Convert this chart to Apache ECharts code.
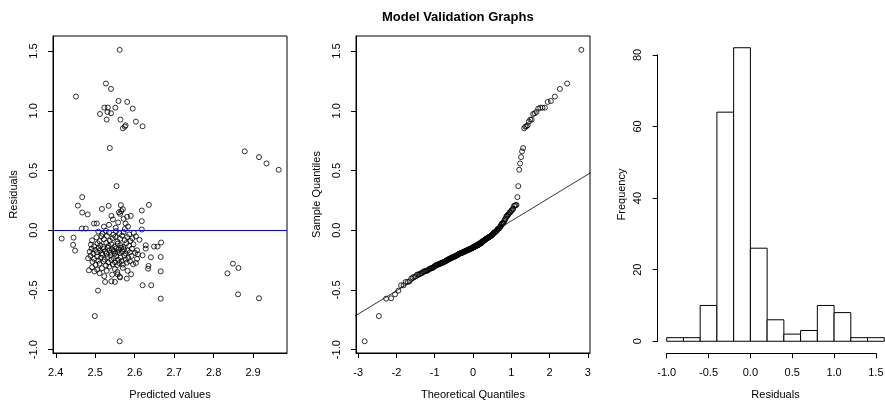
<!DOCTYPE html>
<html>
<head>
<meta charset="utf-8">
<script src="https://cdn.jsdelivr.net/npm/echarts@6/dist/echarts.min.js"></script>
<style>
html,body{margin:0;padding:0;background:#fff;}
#chart{width:885px;height:401px;}
</style>
</head>
<body>
<div id="chart"></div>
<script>
// ---- Data ----
const titleText = 'Model Validation Graphs';

// Residuals vs predicted values (same order in both arrays)
const predicted = [
  2.562,2.451,2.527,2.540,2.559,2.581,2.523,2.532,2.551,2.595,2.531,2.540,2.512,2.529,2.564,2.603,2.577,2.575,2.570,2.620,
  2.537,2.879,2.915,2.934,2.965,
  2.467,2.456,2.534,2.565,2.636,2.554,
  2.467,2.481,2.466,2.476,2.497,2.504,2.517,2.541,2.563,2.570,2.581,2.577,2.618,2.618,2.618,2.522,2.535,2.545,2.552,2.558,2.566,2.560,2.572,2.583,2.590,2.575,
  2.415,2.445,2.444,2.449,2.649,2.658,2.667,2.628,2.628,2.606,
  2.508,2.518,2.527,2.535,2.546,2.553,2.561,2.572,2.586,2.598,
  2.492,2.503,2.511,2.516,2.522,2.530,2.537,2.544,2.551,2.556,2.563,2.568,2.575,2.581,2.589,2.594,2.603,2.612,
  2.489,2.497,2.506,2.513,2.520,2.528,2.534,2.541,2.549,2.557,2.564,2.571,2.579,2.586,2.597,
  2.486,2.491,2.495,2.500,2.504,2.509,2.512,2.517,2.521,2.525,2.529,2.532,2.536,2.540,2.543,2.547,2.550,2.553,2.556,2.559,2.562,2.566,2.569,2.573,2.577,2.582,2.588,2.593,2.601,
  2.482,2.484,2.641,2.666,2.634,2.635,2.666,2.620,2.608,2.603,2.591,2.835,2.849,2.863,2.557,2.562,
  2.488,2.493,2.497,2.501,2.505,2.508,2.511,2.514,2.518,2.521,2.524,2.527,2.531,2.534,2.538,2.541,2.544,2.547,2.550,2.553,2.556,2.558,2.561,2.564,2.567,2.570,2.574,2.577,2.580,2.584,2.588,2.592,2.596,2.606,
  2.492,2.498,2.505,2.511,2.517,2.523,2.529,2.536,2.543,2.550,2.556,2.563,2.570,2.582,
  2.507,2.862,2.915,2.666,2.620,2.642,2.580,2.541,2.525,2.550,2.499,2.562
];
const residuals = [
  1.510,1.119,1.228,1.183,1.082,1.074,1.026,1.026,1.026,1.018,0.990,0.979,0.973,0.926,0.926,0.909,0.878,0.867,0.853,0.870,
  0.688,0.660,0.612,0.559,0.506,
  0.277,0.206,0.204,0.210,0.212,0.369,
  0.148,0.132,0.014,0.014,0.056,0.056,0.178,0.120,0.137,0.176,0.112,0.056,0.165,0.076,0.006,0.030,0.045,0.090,0.020,0.065,0.160,0.150,0.095,0.030,0.120,0.010,
  -0.070,-0.062,-0.123,-0.171,-0.137,-0.137,-0.103,-0.126,-0.154,-0.168,
  -0.012,-0.030,-0.005,-0.020,-0.038,-0.008,-0.025,-0.015,-0.035,-0.022,
  -0.085,-0.060,-0.092,-0.050,-0.075,-0.048,-0.088,-0.066,-0.055,-0.095,-0.072,-0.045,-0.083,-0.058,-0.090,-0.068,-0.052,-0.080,
  -0.120,-0.135,-0.110,-0.128,-0.140,-0.105,-0.132,-0.117,-0.138,-0.112,-0.125,-0.140,-0.108,-0.130,-0.118,
  -0.180,-0.155,-0.195,-0.165,-0.185,-0.150,-0.172,-0.192,-0.158,-0.178,-0.198,-0.148,-0.168,-0.188,-0.160,-0.175,-0.196,-0.152,-0.183,-0.165,-0.190,-0.147,-0.178,-0.160,-0.193,-0.170,-0.185,-0.155,-0.190,
  -0.235,-0.336,-0.227,-0.224,-0.322,-0.299,-0.344,-0.210,-0.201,-0.274,-0.369,-0.361,-0.280,-0.316,-0.370,-0.390,
  -0.215,-0.265,-0.240,-0.290,-0.220,-0.255,-0.280,-0.230,-0.205,-0.262,-0.245,-0.295,-0.225,-0.270,-0.210,-0.250,-0.285,-0.235,-0.268,-0.218,-0.292,-0.248,-0.275,-0.228,-0.258,-0.288,-0.212,-0.245,-0.272,-0.232,-0.260,-0.215,-0.285,-0.240,
  -0.310,-0.345,-0.330,-0.360,-0.318,-0.385,-0.340,-0.305,-0.372,-0.325,-0.350,-0.395,-0.315,-0.340,
  -0.506,-0.537,-0.570,-0.573,-0.461,-0.461,-0.405,-0.428,-0.433,-0.433,-0.719,-0.930
];

// Histogram of residuals
const histBreaks = [-1.0,-0.8,-0.6,-0.4,-0.2,0.0,0.2,0.4,0.6,0.8,1.0,1.2,1.4,1.6];
const histCounts = [1,1,10,64,82,26,6,2,3,10,8,1,1];

// Tick labels
const predTicks = [2.4,2.5,2.6,2.7,2.8,2.9];
const residTicks = [-1.0,-0.5,0.0,0.5,1.0,1.5];
const theoTicks = [-3,-2,-1,0,1,2,3];

// ---- Derived (statistical transforms) ----
function qnorm(p){
  const a=[-3.969683028665376e+01,2.209460984245205e+02,-2.759285104469687e+02,1.383577518672690e+02,-3.066479806614716e+01,2.506628277459239e+00];
  const b=[-5.447609879822406e+01,1.615858368580409e+02,-1.556989798598866e+02,6.680131188771972e+01,-1.328068155288572e+01];
  const c=[-7.784894002430293e-03,-3.223964580411365e-01,-2.400758277161838e+00,-2.549671324285584e+00,4.374664141464968e+00,2.938163982698783e+00];
  const d=[7.784695709041462e-03,3.224671290700398e-01,2.445134137142996e+00,3.754408661907416e+00];
  const pl=0.02425, ph=1-pl;
  let q,r;
  if(p<pl){q=Math.sqrt(-2*Math.log(p));return (((((c[0]*q+c[1])*q+c[2])*q+c[3])*q+c[4])*q+c[5])/((((d[0]*q+d[1])*q+d[2])*q+d[3])*q+1);}
  if(p<=ph){q=p-0.5;r=q*q;return (((((a[0]*r+a[1])*r+a[2])*r+a[3])*r+a[4])*r+a[5])*q/(((((b[0]*r+b[1])*r+b[2])*r+b[3])*r+b[4])*r+1);}
  q=Math.sqrt(-2*Math.log(1-p));
  return -(((((c[0]*q+c[1])*q+c[2])*q+c[3])*q+c[4])*q+c[5])/((((d[0]*q+d[1])*q+d[2])*q+d[3])*q+1);
}
const n = residuals.length;
const sorted = residuals.slice().sort((x,y)=>x-y);
const qqData = sorted.map((v,i)=>[qnorm((i+1-0.5)/n), v]);
function quant(arr,p){const h=(arr.length-1)*p;const lo=Math.floor(h);return arr[lo]+(h-lo)*(arr[Math.min(lo+1,arr.length-1)]-arr[lo]);}
const y1=quant(sorted,0.25), y2=quant(sorted,0.75), x1=qnorm(0.25), x2=qnorm(0.75);
const slope=(y2-y1)/(x2-x1), intercept=y1-slope*x1;
const qqLine=[[-4, intercept-4*slope],[4, intercept+4*slope]];
const scatterData = predicted.map((x,i)=>[x, residuals[i]]);
const histData = histCounts.map((c,i)=>[histBreaks[i], histBreaks[i+1], c]);

// ---- Chart ----
const FONT = 'Liberation Sans, Arial, sans-serif';
const txt = {color:'#000', fontFamily:FONT, fontSize:11};
const circle = {color:'rgba(0,0,0,0)', borderColor:'#000', borderWidth:1};
const XLM = 14, YLM = 14, XNG = 36, YNG = 34;

function xAx(grid, min, max, ticks, fmt, name){
  return {type:'value', gridIndex:grid, min:min, max:max, splitLine:{show:false},
    axisLine:{show:true, onZero:false, lineStyle:{color:'#000', width:1}},
    axisTick:{show:true, customValues:ticks, length:5, lineStyle:{color:'#000'}},
    axisLabel:Object.assign({customValues:ticks, margin:XLM, formatter:fmt}, txt),
    name:name, nameLocation:'middle', nameGap:XNG, nameTextStyle:txt};
}
function yAx(grid, min, max, ticks, fmt, name){
  return {type:'value', gridIndex:grid, min:min, max:max, splitLine:{show:false},
    axisLine:{show:true, onZero:false, lineStyle:{color:'#000', width:1}},
    axisTick:{show:true, customValues:ticks, length:5, lineStyle:{color:'#000'}},
    axisLabel:Object.assign({customValues:ticks, margin:YLM, rotate:90, formatter:fmt}, txt),
    name:name, nameLocation:'middle', nameGap:YNG, nameTextStyle:txt};
}
const f1 = v=>Number(v).toFixed(1);
const f0 = v=>String(Math.round(v));

const chart = echarts.init(document.getElementById('chart'), null, {renderer:'canvas'});
chart.setOption({
  animation:false,
  backgroundColor:'#fff',
  title:{text:titleText, left:377, top:6, textStyle:{fontFamily:FONT, fontSize:13, fontWeight:'bold', color:'#000'}},
  grid:[
    {left:53, top:36, width:234, height:317, show:true, borderColor:'#000', borderWidth:1, backgroundColor:'rgba(0,0,0,0)', outerBoundsMode:'none', containLabel:false},
    {left:356, top:36, width:234, height:317, show:true, borderColor:'#000', borderWidth:1, backgroundColor:'rgba(0,0,0,0)', outerBoundsMode:'none', containLabel:false},
    {left:658, top:36, width:235, height:317, outerBoundsMode:'none', containLabel:false},
    {left:666.7, top:54.9, width:209.2, height:286.4, outerBoundsMode:'none', containLabel:false}
  ],
  xAxis:[
    xAx(0, 2.393, 2.986, predTicks, f1, 'Predicted values'),
    xAx(1, -3.056, 3.056, theoTicks, f0, 'Theoretical Quantiles'),
    {type:'value', gridIndex:2, min:-1.104, max:1.704, axisLine:{show:false}, axisTick:{show:false}, axisLabel:{show:false}, splitLine:{show:false},
      name:'Residuals', nameLocation:'middle', nameGap:XNG, nameTextStyle:txt},
    {type:'value', gridIndex:3, min:-1.0, max:1.5, interval:0.5, offset:12, splitLine:{show:false},
      axisLine:{show:true, onZero:false, lineStyle:{color:'#000'}},
      axisTick:{show:true, length:5, lineStyle:{color:'#000'}},
      axisLabel:Object.assign({margin:XLM, formatter:f1, showMinLabel:true, showMaxLabel:true}, txt)}
  ],
  yAxis:[
    yAx(0, -1.028, 1.626, residTicks, f1, 'Residuals'),
    yAx(1, -1.028, 1.626, residTicks, f1, 'Sample Quantiles'),
    {type:'value', gridIndex:2, min:-3.28, max:85.28, axisLine:{show:false}, axisTick:{show:false}, axisLabel:{show:false}, splitLine:{show:false},
      name:'Frequency', nameLocation:'middle', nameGap:31, nameTextStyle:txt},
    {type:'value', gridIndex:3, min:0, max:80, interval:20, offset:9, splitLine:{show:false},
      axisLine:{show:true, onZero:false, lineStyle:{color:'#000'}},
      axisTick:{show:true, length:5, lineStyle:{color:'#000'}},
      axisLabel:Object.assign({margin:YLM, rotate:90, formatter:f0}, txt)}
  ],
  series:[
    {type:'scatter', xAxisIndex:0, yAxisIndex:0, data:scatterData, symbol:'circle', symbolSize:5,
      itemStyle:circle, emphasis:{disabled:true}, silent:true,
      markLine:{silent:true, symbol:['none','none'], label:{show:false},
        lineStyle:{color:'#0000ff', width:1, type:'solid'}, data:[{yAxis:0}]}},
    {type:'scatter', xAxisIndex:1, yAxisIndex:1, data:qqData, symbol:'circle', symbolSize:5,
      itemStyle:circle, emphasis:{disabled:true}, silent:true},
    {type:'line', xAxisIndex:1, yAxisIndex:1, data:qqLine, showSymbol:false, clip:true, silent:true,
      lineStyle:{color:'#000', width:0.8}},
    {type:'custom', xAxisIndex:2, yAxisIndex:2, data:histData, silent:true,
      encode:{x:[0,1], y:2},
      renderItem:function(params, api){
        const p0 = api.coord([api.value(0), api.value(2)]);
        const p1 = api.coord([api.value(1), 0]);
        return {type:'rect', shape:{x:p0[0], y:p0[1], width:p1[0]-p0[0], height:p1[1]-p0[1]},
          style:{fill:'#fff', stroke:'#000', lineWidth:1}};
      }}
  ]
});
</script>
</body>
</html>
